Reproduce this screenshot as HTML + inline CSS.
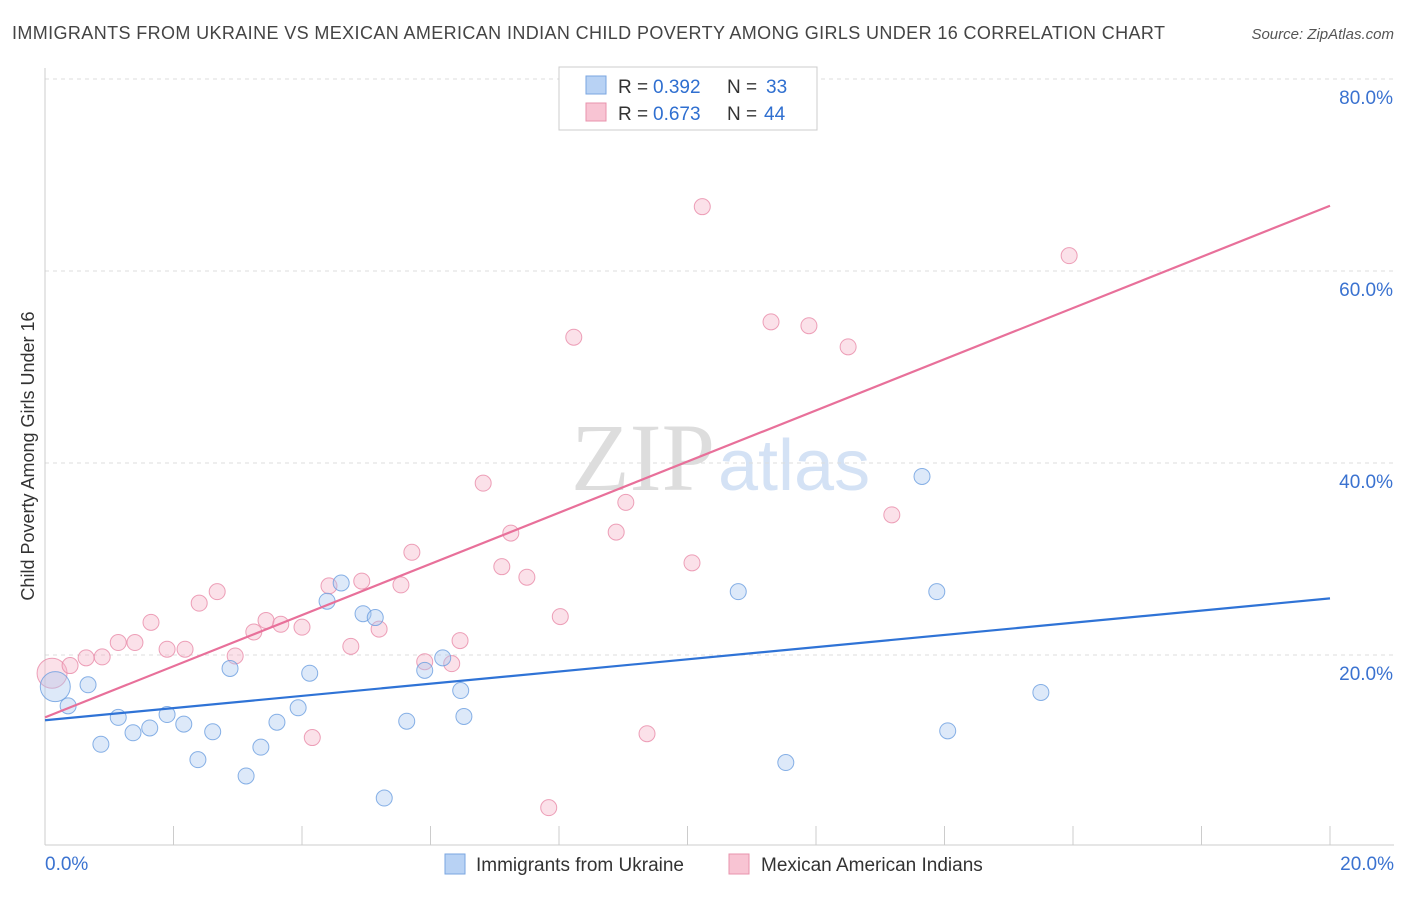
<!DOCTYPE html>
<html><head><meta charset="utf-8">
<style>
body{margin:0;background:#fff;font-family:"Liberation Sans",sans-serif;}
</style></head>
<body>
<svg id="chart" width="1406" height="892" xmlns="http://www.w3.org/2000/svg">
<text x="12" y="39" font-size="18" fill="#444" textLength="1153">IMMIGRANTS FROM UKRAINE VS MEXICAN AMERICAN INDIAN CHILD POVERTY AMONG GIRLS UNDER 16 CORRELATION CHART</text>
<text x="1394" y="39" font-size="15" fill="#555" font-style="italic" text-anchor="end">Source: ZipAtlas.com</text>
<text x="715" y="490" font-size="96" fill="#ddd" text-anchor="end" font-family="Liberation Serif,serif">ZIP</text>
<text x="718" y="490" font-size="72" fill="#d4e2f5">atlas</text>
<text x="34" y="456" font-size="18" fill="#333" text-anchor="middle" transform="rotate(-90 34 456)">Child Poverty Among Girls Under 16</text>
<g id="grid"></g><g id="marks"></g>
<g>
<rect x="559" y="67" width="258" height="63" fill="#fff" stroke="#ccc"/>
<rect x="586" y="76" width="20" height="18" fill="#b8d2f4" stroke="#7aa6e0"/>
<rect x="586" y="103" width="20" height="18" fill="#f8c4d3" stroke="#e893ad"/>
<text y="93" font-size="19" fill="#333"><tspan x="618">R =</tspan><tspan x="653" fill="#2f6fd0">0.392</tspan><tspan x="727">N =</tspan><tspan x="766" fill="#2f6fd0">33</tspan></text>
<text y="120" font-size="19" fill="#333"><tspan x="618">R =</tspan><tspan x="653" fill="#2f6fd0">0.673</tspan><tspan x="727">N =</tspan><tspan x="764" fill="#2f6fd0">44</tspan></text>
</g>
<g>
<rect x="445" y="854" width="20" height="20" fill="#b8d2f4" stroke="#7aa6e0"/>
<text x="476" y="871" font-size="19" fill="#333">Immigrants from Ukraine</text>
<rect x="729" y="854" width="20" height="20" fill="#f8c4d3" stroke="#e893ad"/>
<text x="761" y="871" font-size="19" fill="#333">Mexican American Indians</text>
</g>
</svg>
<script>
const xTicks=[0,2,4,6,8,10,12,14,16,18,20];
const yTicks=[20,40,60,80];
const blueX=[0.16,0.36,0.67,0.87,1.14,1.37,1.63,1.90,2.16,2.38,2.61,2.88,3.13,3.36,3.61,3.94,4.12,4.39,4.61,4.95,5.14,5.28,5.63,5.91,6.19,6.47,6.52,10.79,11.53,13.65,13.88,14.05,15.50];
const blueY=[16.7,14.7,16.9,10.7,13.5,11.9,12.4,13.8,12.8,9.1,12.0,18.6,7.4,10.4,13.0,14.5,18.1,25.6,27.5,24.3,23.9,5.1,13.1,18.4,19.7,16.3,13.6,26.6,8.8,38.6,26.6,12.1,16.1];
const pinkX=[0.11,0.39,0.64,0.89,1.14,1.40,1.65,1.90,2.18,2.40,2.68,2.96,3.25,3.44,3.67,4.00,4.16,4.42,4.76,4.93,5.20,5.54,5.71,5.91,6.33,6.46,6.82,7.11,7.25,7.50,7.84,8.02,8.23,8.89,9.04,9.37,10.07,10.23,10.55,11.30,11.89,12.50,13.18,15.94];
const pinkY=[18.1,18.9,19.7,19.8,21.3,21.3,23.4,20.6,20.6,25.4,26.6,19.9,22.4,23.6,23.2,22.9,11.4,27.2,20.9,27.7,22.7,27.3,30.7,19.3,19.1,21.5,37.9,29.2,32.7,28.1,4.1,24.0,53.1,32.8,35.9,11.8,29.6,66.7,77.1,54.7,54.3,52.1,34.6,61.6];
const blueLine=[13.2,25.9];
const pinkLine=[13.5,66.8];
const X=v=>45+v*64.25, Y=v=>847-v*9.6;
const NS="http://www.w3.org/2000/svg";
const grid=document.getElementById('grid'), marks=document.getElementById('marks');
function mk(tag,attrs,parent){const e=document.createElementNS(NS,tag);for(const k in attrs)e.setAttribute(k,attrs[k]);parent.appendChild(e);return e;}
yTicks.forEach(t=>{
 const l=mk('line',{x1:45,x2:1394,y1:Y(t),y2:Y(t),stroke:'#ddd','stroke-dasharray':'4 4'},grid);
 
 
 const tx=mk('text',{x:1393,y:Y(t)+25,'font-size':19,fill:'#3a72d0','text-anchor':'end'},grid);
 tx.textContent=t.toFixed(1)+'%';
 
 
});
mk('line',{x1:45,x2:45,y1:68,y2:845,stroke:'#ccc'},grid);
mk('line',{x1:45,x2:1394,y1:845,y2:845,stroke:'#ccc'},grid);
xTicks.forEach(t=>{
 const l=mk('line',{x1:X(t),x2:X(t),y1:826,y2:845,stroke:'#ccc'},grid);
 
 
});
[[0,45,'start'],[20,1394,'end']].forEach(([t,x,a])=>{
 const tx=mk('text',{x:x,y:870,'font-size':19,fill:'#3a72d0','text-anchor':a},grid);
 tx.textContent=t.toFixed(1)+'%';
 
 
});
function pts(xs,ys,fill,stroke,name){
 xs.forEach((x,i)=>{
  const r=i===0?15:8;
  const c=mk('circle',{cx:X(x),cy:Y(ys[i]),r:r,fill:fill,'fill-opacity':0.4,stroke:stroke,'stroke-opacity':0.8,'stroke-width':1},marks);
  
  
 });
}
pts(pinkX,pinkY,'#f5b3c7','#e88aa8','point-mexican');
pts(blueX,blueY,'#a9c8f0','#6a9ee0','point-ukraine');
const bl=mk('line',{x1:X(0),y1:Y(blueLine[0]),x2:X(20),y2:Y(blueLine[1]),stroke:'#2f73d6','stroke-width':2.2},marks);


const pl=mk('line',{x1:X(0),y1:Y(pinkLine[0]),x2:X(20),y2:Y(pinkLine[1]),stroke:'#e8709a','stroke-width':2.2},marks);


</script>
</body></html>
